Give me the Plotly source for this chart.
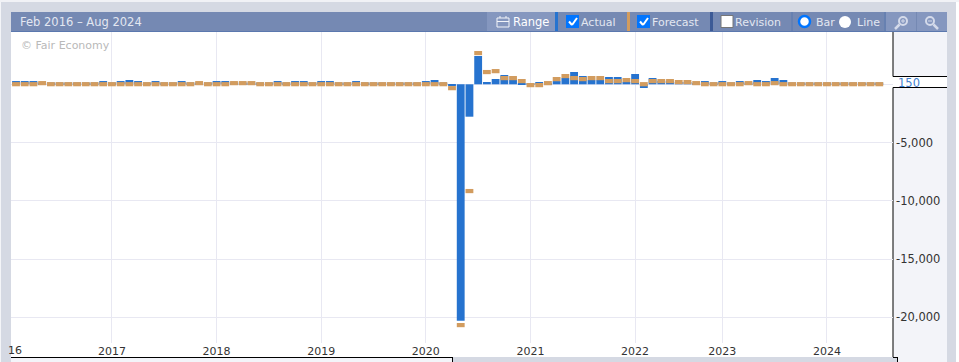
import plotly.graph_objects as go

release_index = list(range(100))
actual = [280,280,280,150,150,150,150,150,150,150,280,150,280,370,280,150,280,150,150,280,
          150,150,150,280,280,150,150,150,150,150,280,150,280,280,150,280,280,150,150,280,
          150,150,150,150,150,150,150,280,370,150,-90,-20280,-2780,2430,200,455,800,370,110,60,
          200,110,280,540,1055,710,370,370,625,625,200,885,-320,540,300,300,200,200,110,280,
          150,280,150,280,150,370,280,540,370,150,150,150,150,150,150,150,150,150,150,150]
forecast = [190,190,190,280,190,190,190,190,190,190,190,190,190,190,190,190,190,190,190,190,
            190,280,190,190,190,280,280,280,190,190,190,190,190,190,190,190,190,190,190,190,
            190,190,190,190,190,190,190,190,190,190,-150,-20480,-8980,2860,1230,1310,710,710,455,110,
            110,280,625,885,710,625,710,710,455,455,540,455,190,455,455,455,370,370,280,190,
            190,190,190,190,280,190,190,280,190,190,190,190,190,190,190,190,190,190,190,190]
year_ticks = [11,23,35,47,59,71,81,93]
year_labels = ["2017","2018","2019","2020","2021","2022","2023","2024"]
value_ticks = [0,-5000,-10000,-15000,-20000]
value_labels = ["","-5,000","-10,000","-15,000","-20,000"]
latest_value = 150
title_text = "Feb 2016 – Aug 2024"

# pixel layout of the frame
L, R, T, B = 11, 893, 32, 343
W, H = 959, 362
UNITS_PER_PX = 85.8
Y0 = 84.3
MARK_H = 4.2 * UNITS_PER_PX
def px(x): return (x - L) / (R - L)
def py(y): return 1 - (y - T) / (B - T)
def rect(x0, y0, x1, y1, fill, line=None, width=1, layer="below"):
    return dict(type="rect", xref="paper", yref="paper", x0=px(x0), x1=px(x1), y0=py(y0), y1=py(y1),
                fillcolor=fill, line=dict(color=line or fill, width=width if line else 0), layer=layer)
def circ(x0, y0, x1, y1, fill, line=None, width=1):
    s = rect(x0, y0, x1, y1, fill, line, width, "above"); s["type"] = "circle"; return s
def seg(x0, y0, x1, y1, color, width=1, layer="below"):
    return dict(type="line", xref="paper", yref="paper", x0=px(x0), x1=px(x1), y0=py(y0), y1=py(y1),
                line=dict(color=color, width=width), layer=layer)
def label(x, y, text, color="#e3e7f1", size=11, anchor="left"):
    return dict(xref="paper", yref="paper", x=px(x), y=py(y), text=text, showarrow=False, xanchor=anchor, yanchor="middle",
                font=dict(family="DejaVu Sans", size=size, color=color), borderpad=0, borderwidth=0)

GREY, PANEL, BAR, LIGHT, EDGE = "#d5d9e3", "#f3f4f9", "#7589b3", "#8597bf", "#5b78ae"
BLUE, TAN, NAVY = "#2673cf", "#d29c5f", "#3c5a96"
ICON = "#d4daea"
shapes = [
    rect(0, 0, 1, H, "#f4f5f8"), rect(W-3, 0, W, H, "#ffffff"), rect(0, 0, W, 2, "#f1f2f6"),
    rect(L, T, R, 357, "#ffffff"),
    rect(R, T, 947, H, PANEL),
    rect(R, 76.5, 947, 87.5, "#ffffff"),
    rect(L, 357, 452, H, PANEL),
    rect(452.5, 357.5, 897, H, GREY),
    seg(R, T, R, 76.5, "#000000"), seg(R, 87.5, R, 357, "#000000"),
    seg(R, 76.5, 947, 76.5, "#000000"), seg(R, 87.5, 947, 87.5, "#000000"),
    seg(L, 357.5, 452, 357.5, "#000000"), seg(452.5, 357, 452.5, H, "#000000"),
    seg(R, 357.5, 897, 357.5, "#000000"), seg(897.5, 357, 897.5, H, "#000000"),
    # toolbar
    rect(L, 12, 947, 31, BAR), seg(L, 31.5, 947, 31.5, EDGE),
    rect(487, 12, 555, 31, LIGHT), rect(555, 12, 558, 31, BLUE),
    rect(627, 12, 630, 31, TAN), rect(710, 12, 713, 31, NAVY),
    seg(792, 12, 792, 31, EDGE), seg(885, 12, 885, 31, EDGE),
    rect(886, 12, 916, 31, LIGHT), rect(917, 12, 947, 31, LIGHT),
    # calendar icon
    rect(497, 18, 509, 27, LIGHT, "#f2f4f9", 1, "above"), seg(497, 21.5, 509, 21.5, "#f2f4f9", 1, "above"),
    seg(500, 16, 500, 18, "#f2f4f9", 1, "above"), seg(506, 16, 506, 18, "#f2f4f9", 1, "above"),
    # checkboxes
    dict(rect(566, 15, 579, 28, "#0075ff"), layer="above"),
    dict(rect(637, 15, 650, 28, "#0075ff"), layer="above"),
    dict(rect(721, 15.5, 733, 27.5, "#ffffff", "#767676", 1), layer="above"),
    # radios
    circ(799, 16, 810, 27, "#ffffff", "#0075ff", 2.5),
    circ(839, 16, 851, 28, "#ffffff"),
    # zoom icons
    circ(899, 17, 907, 25, "rgba(0,0,0,0)", ICON, 2), seg(895, 29, 899.5, 24.5, ICON, 2.5, "above"),
    seg(901, 21, 905, 21, ICON, 1, "above"), seg(903, 19, 903, 23, ICON, 1, "above"),
    circ(926, 17, 934, 25, "rgba(0,0,0,0)", ICON, 2), seg(933.5, 24.5, 938, 29, ICON, 2.5, "above"),
    seg(928, 21, 932, 21, ICON, 1, "above"),
]
for cx in (569, 640):
    shapes += [seg(cx, 21.5, cx+3, 25, "#ffffff", 2, "above"), seg(cx+3, 25, cx+8, 18, "#ffffff", 2, "above")]

annotations = [
    label(20, 22, title_text, "#e3e7f1", 11.5),
    label(21, 45, "© Fair Economy", "#b9b9b9", 11),
    label(513, 22, "Range", "#ffffff", 11.5),
    label(581, 22, "Actual"), label(652, 22, "Forecast"), label(735, 22, "Revision"),
    label(816, 22, "Bar"), label(857, 22, "Line"),
    label(8, 350, "16", "#333333"),
    dict(xref="paper", yref="y", x=px(896), y=latest_value, text=str(latest_value), showarrow=False, xanchor="left",
         yanchor="middle", font=dict(family="DejaVu Sans", size=11.5, color="#3f7fd0")),
]

fig = go.Figure()
fig.add_bar(x=release_index, y=actual, width=0.9, marker=dict(color=BLUE, line=dict(width=0)), name="Actual")
fig.add_bar(x=release_index, y=[MARK_H]*len(forecast), base=[f - MARK_H for f in forecast], width=0.9,
            marker=dict(color=TAN, line=dict(width=0)), name="Forecast")
fig.update_layout(
    width=W, height=H, autosize=False, barmode="overlay", showlegend=False,
    margin=dict(l=L, r=W-R, t=T, b=H-B, pad=0, autoexpand=False),
    paper_bgcolor=GREY, plot_bgcolor="rgba(0,0,0,0)",
    shapes=shapes, annotations=annotations,
    font=dict(family="DejaVu Sans", size=11, color="#333333"),
    xaxis=dict(range=[(L-16)/8.72, (R-16)/8.72], tickmode="array", tickvals=year_ticks, ticktext=year_labels,
               showgrid=True, gridcolor="#e8e8f2", gridwidth=1, zeroline=False, ticks="", showline=False,
               tickfont=dict(family="DejaVu Sans", size=11, color="#333333")),
    yaxis=dict(side="right", range=[(Y0-B)*UNITS_PER_PX, (Y0-T)*UNITS_PER_PX], tickmode="array",
               tickvals=value_ticks, ticktext=value_labels, showgrid=True, gridcolor="#e8e8f2", gridwidth=1,
               zeroline=False, ticks="", showline=False, ticklabelstandoff=2,
               tickfont=dict(family="DejaVu Sans", size=11.5, color="#333333")),
)
fig.write_html("out.html", post_script="document.body.style.margin='0';document.body.style.overflow='hidden';",
               config=dict(displayModeBar=False))
